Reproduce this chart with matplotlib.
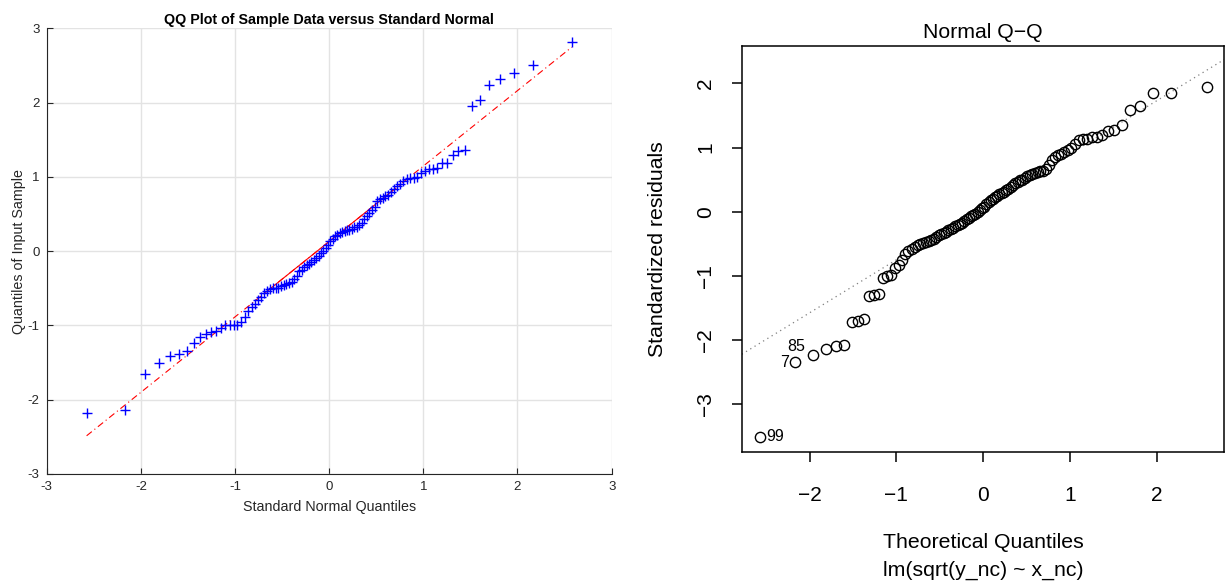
import numpy as np
import matplotlib
matplotlib.use("Agg")
import matplotlib.pyplot as plt
from statistics import NormalDist

plt.rcParams['font.family'] = ['Liberation Sans', 'DejaVu Sans']

# ---------------- data ----------------
# Left panel: sorted sample values (MATLAB qqplot)
sample_sorted = [
    -2.18, -2.14, -1.66, -1.51, -1.41, -1.38, -1.35, -1.24, -1.16, -1.11,
    -1.09, -1.07, -1.03, -0.99, -0.99, -0.99, -0.99, -0.95, -0.88, -0.81,
    -0.75, -0.71, -0.66, -0.62, -0.57, -0.54, -0.51, -0.50, -0.49, -0.49,
    -0.47, -0.45, -0.44, -0.43, -0.41, -0.38, -0.33, -0.27, -0.25, -0.22,
    -0.19, -0.17, -0.14, -0.12, -0.09, -0.06, -0.03, 0.00, 0.04, 0.08,
    0.13, 0.17, 0.20, 0.22, 0.24, 0.26, 0.27, 0.28, 0.29, 0.30,
    0.32, 0.33, 0.35, 0.38, 0.43, 0.47, 0.51, 0.56, 0.59, 0.67,
    0.70, 0.72, 0.74, 0.75, 0.79, 0.84, 0.88, 0.91, 0.95, 0.97,
    0.98, 0.99, 1.00, 1.05, 1.08, 1.10, 1.11, 1.12, 1.18, 1.19,
    1.30, 1.35, 1.36, 1.95, 2.04, 2.23, 2.32, 2.40, 2.50, 2.82,
]

# Right panel: sorted standardized residuals (R plot.lm, which=2)
resid_sorted = [
    -3.51, -2.35, -2.23, -2.14, -2.10, -2.08, -1.72, -1.70, -1.68, -1.32,
    -1.30, -1.28, -1.04, -1.01, -0.99, -0.88, -0.83, -0.76, -0.66, -0.62,
    -0.58, -0.55, -0.52, -0.50, -0.49, -0.48, -0.46, -0.44, -0.42, -0.40,
    -0.37, -0.35, -0.33, -0.31, -0.29, -0.27, -0.25, -0.23, -0.21, -0.19,
    -0.17, -0.15, -0.12, -0.10, -0.07, -0.05, -0.03, -0.01, 0.02, 0.05,
    0.08, 0.12, 0.15, 0.18, 0.20, 0.23, 0.25, 0.27, 0.29, 0.31,
    0.33, 0.36, 0.39, 0.42, 0.44, 0.46, 0.49, 0.50, 0.53, 0.55,
    0.57, 0.58, 0.60, 0.62, 0.63, 0.64, 0.66, 0.72, 0.80, 0.85,
    0.88, 0.90, 0.93, 0.96, 1.00, 1.06, 1.12, 1.13, 1.14, 1.16,
    1.17, 1.19, 1.25, 1.27, 1.35, 1.59, 1.65, 1.85, 1.85, 1.94,
]
resid_labels = ["99", "85", "7"]   # observation ids of the most extreme residuals
label_rank = [0, 1, 1]              # rank position (sorted) each id belongs to

left_ticks = [-3, -2, -1, 0, 1, 2, 3]
right_xticks = [-2, -1, 0, 1, 2]
right_yticks = [-3, -2, -1, 0, 1, 2]


def theo_quantiles(n):
    nd = NormalDist()
    return np.array([nd.inv_cdf((i - 0.5) / n) for i in range(1, n + 1)])


def fmt_minus(v):
    return str(v).replace('-', '\u2212')


fig = plt.figure(figsize=(12.25, 5.81), dpi=100)

# ---------------- left panel (MATLAB style) ----------------
axL = fig.add_axes([0.0381, 0.1842, 0.4612, 0.7671])
y = np.array(sample_sorted)
x = theo_quantiles(len(y))
dark = '#262626'
axL.plot(x, y, linestyle='none', marker='+', color='#0000ff',
         markersize=7, markeredgewidth=1.0, zorder=3)
qx = np.percentile(x, [25, 75], method='hazen')
qy = np.percentile(y, [25, 75], method='hazen')
slope = (qy[1] - qy[0]) / (qx[1] - qx[0])
icpt = qy[0] - slope * qx[0]
xe = np.array([x.min(), x.max()])
axL.plot(xe, icpt + slope * xe, color='#ff0000', linewidth=0.8,
         linestyle=(0, (6, 3, 1, 3)), zorder=2)
axL.plot(qx, qy, color='#ff0000', linewidth=0.8, zorder=2)
axL.set_xlim(-3, 3)
axL.set_ylim(-3, 3)
axL.set_xticks(left_ticks)
axL.set_yticks(left_ticks)
axL.set_xticklabels([str(t) for t in left_ticks])
axL.set_yticklabels([str(t) for t in left_ticks])
axL.grid(True, color='#e3e3e3', linewidth=1.0)
axL.set_axisbelow(True)
for s in ['top', 'right']:
    axL.spines[s].set_visible(False)
for s in ['left', 'bottom']:
    axL.spines[s].set_color(dark)
    axL.spines[s].set_linewidth(0.8)
axL.tick_params(direction='in', length=4, width=0.8, color=dark,
                labelcolor=dark, labelsize=9.5, pad=5)
axL.set_title('QQ Plot of Sample Data versus Standard Normal',
              fontsize=10.3, fontweight='bold', color='black', pad=3)
axL.set_xlabel('Standard Normal Quantiles', fontsize=10.3, color=dark, labelpad=5)
axL.set_ylabel('Quantiles of Input Sample', fontsize=10.3, color=dark, labelpad=1)

# ---------------- right panel (R style) ----------------
axR = fig.add_axes([0.6055, 0.2225, 0.394, 0.6983])
r = np.array(resid_sorted)
xr = theo_quantiles(len(r))
axR.plot(xr, r, linestyle='none', marker='o', markerfacecolor='none',
         markeredgecolor='black', markersize=7.4, markeredgewidth=1.0, zorder=3)
ry = np.percentile(r, [25, 75])
rx = np.array([NormalDist().inv_cdf(0.25), NormalDist().inv_cdf(0.75)])
rs = (ry[1] - ry[0]) / (rx[1] - rx[0])
axR.axline((rx[0], ry[0]), slope=rs, color='#7f7f7f', linewidth=0.9,
           linestyle=(0, (1, 3)), zorder=2)

# labels of extreme points
offsets = {"99": ((5, 0), 'left', 'center'),
           "85": ((1, 6), 'center', 'bottom'),
           "7": ((-4, 0), 'right', 'center')}
for lab, rk in zip(resid_labels, label_rank):
    (dx, dy), ha, va = offsets[lab]
    axR.annotate(lab, (xr[rk], r[rk]), xytext=(dx, dy), textcoords='offset points',
                 ha=ha, va=va, fontsize=11.5, color='black')

xpad = 0.04 * (xr.max() - xr.min())
axR.set_xlim(xr.min() - xpad, xr.max() + xpad)
ylo, yhi = r.min(), r.max() + 0.075 * (r.max() - r.min())
ypad = 0.04 * (yhi - ylo)
axR.set_ylim(ylo - ypad, yhi + ypad)
axR.set_xticks(right_xticks)
axR.set_yticks(right_yticks)
axR.set_xticklabels([fmt_minus(t) for t in right_xticks])
axR.set_yticklabels([fmt_minus(t) for t in right_yticks], rotation=90, va='center')
for s in axR.spines.values():
    s.set_linewidth(1.1)
    s.set_color('black')
axR.tick_params(direction='out', length=7, width=1.1, labelsize=15)
axR.tick_params(axis='x', pad=18)
axR.tick_params(axis='y', pad=12)
axR.set_title('Normal Q\u2212Q', fontsize=15.3, pad=6)
axR.set_xlabel('Theoretical Quantiles', fontsize=15.3, labelpad=20)
axR.text(0.5, -0.293, 'lm(sqrt(y_nc) ~ x_nc)', transform=axR.transAxes,
         ha='center', va='center', fontsize=15.3)
axR.set_ylabel('Standardized residuals', fontsize=15.3, labelpad=21)

fig.savefig('out.png', dpi=100)
